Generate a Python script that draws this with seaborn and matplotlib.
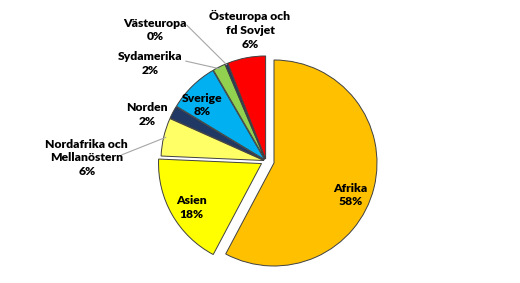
import matplotlib
matplotlib.use("Agg")
import matplotlib.pyplot as plt
import seaborn as sns
import numpy as np

sns.set_theme(style="white")
plt.rcParams['font.family'] = ['Lato', 'DejaVu Sans']

categories = ["Afrika", "Asien", "Nordafrika och\nMellanöstern", "Norden", "Sverige",
              "Sydamerika", "Västeuropa", "Östeuropa och\nfd Sovjet"]
values = [58, 18, 6, 2, 8, 2, 0.4, 6]
pct_labels = ["58%", "18%", "6%", "2%", "8%", "2%", "0%", "6%"]
colors = ["#FFC000", "#FFFF00", "#FFFF66", "#1F3864", "#00B0F0", "#92D050", "#1F3864", "#FF0000"]
explode = [0.08, 0.05, 0.02, 0.02, 0.02, 0.02, 0.02, 0.02]

# label positions (data units, radius = 1)
label_pos = [(0.82, -0.33), (-0.72, -0.45), (-1.74, 0.03), (-1.155, 0.45),
             (-0.62, 0.545), (-1.126, 0.95), (-1.078, 1.272), (-0.155, 1.272)]
leaders = {2: (-1.40, 0.06, 0.98), 5: (-0.78, 0.97, 0.98), 6: (-0.77, 1.32, 0.99)}

W, H = 520, 283
R = 103.0
cx, cy = 266, 161
fig = plt.figure(figsize=(W / 100, H / 100), dpi=100)
ax = fig.add_axes([0, 0, 1, 1])

wedges, _ = ax.pie(values, colors=colors, explode=explode, startangle=90, counterclock=False,
                   radius=1.0, wedgeprops=dict(edgecolor="#404040", linewidth=0.7))

ax.set_xlim(-cx / R, (W - cx) / R)
ax.set_ylim(-(H - cy) / R, cy / R)
ax.set_aspect("equal")
ax.axis("off")

for i, (lab, pct) in enumerate(zip(categories, pct_labels)):
    x, y = label_pos[i]
    ax.text(x, y, f"{lab}\n{pct}", ha="center", va="center", fontsize=8.7,
            fontweight="heavy", color="black", linespacing=1.3)

for i, (lx, ly, rr) in leaders.items():
    w = wedges[i]
    ang = np.deg2rad((w.theta1 + w.theta2) / 2)
    cxw, cyw = w.center
    ex, ey = cxw + rr * np.cos(ang), cyw + rr * np.sin(ang)
    ax.plot([lx, ex], [ly, ey], color="#A6A6A6", linewidth=0.8)

fig.savefig("out.png", dpi=100)
